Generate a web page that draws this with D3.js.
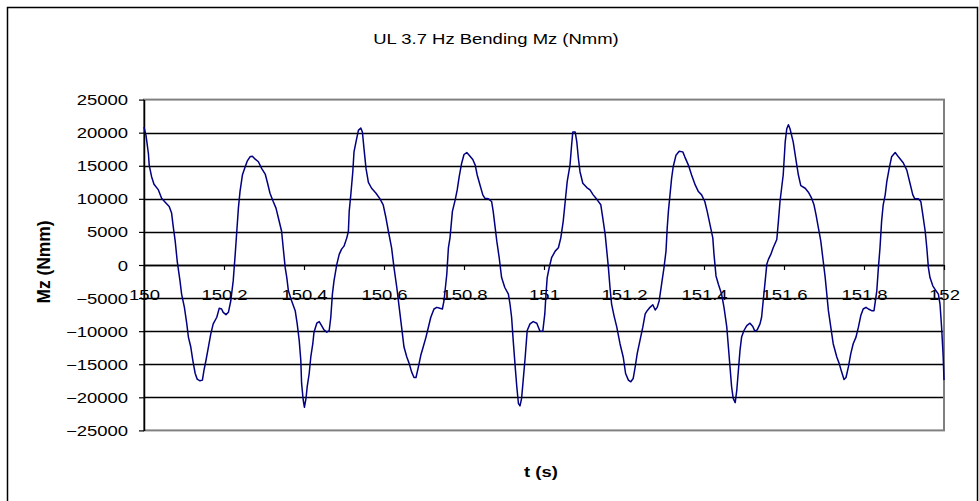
<!DOCTYPE html>
<html>
<head>
<meta charset="utf-8">
<script src="https://cdn.jsdelivr.net/npm/d3@7"></script>
<style>
  html, body { margin: 0; padding: 0; background: #fff; }
  svg { display: block; }
  text { font-family: Arial, "Liberation Sans", sans-serif; }
</style>
</head>
<body>
<svg id="chart" width="979" height="501"></svg>
<script>
const chartTitle = "UL 3.7 Hz Bending Mz (Nmm)";
const xTitle = "t (s)";
const yTitle = "Mz (Nmm)";
const xTicks = [150, 150.2, 150.4, 150.6, 150.8, 151, 151.2, 151.4, 151.6, 151.8, 152];
const yTicks = [-25000, -20000, -15000, -10000, -5000, 0, 5000, 10000, 15000, 20000, 25000];

const tValues = [
  150.000,150.005,150.011,150.013,150.019,150.025,150.036,150.044,150.053,150.063,150.069,150.073,150.078,150.083,150.090,150.094,
  150.101,150.107,150.111,150.117,150.122,150.128,150.133,150.140,150.146,150.150,150.155,150.161,150.167,150.173,150.182,150.188,
  150.194,150.198,150.205,150.211,150.217,150.223,150.228,150.232,150.236,150.240,150.246,150.253,150.258,150.265,150.271,150.278,
  150.286,150.294,150.303,150.309,150.315,150.323,150.330,150.336,150.344,150.348,150.353,150.357,150.361,150.369,150.378,150.383,
  150.388,150.392,150.394,150.398,150.401,150.405,150.408,150.413,150.417,150.422,150.425,150.432,150.438,150.444,150.450,150.457,
  150.463,150.467,150.471,150.475,150.482,150.488,150.494,
  150.500,150.507,150.511,150.513,150.517,150.522,150.525,150.530,150.536,150.542,150.546,150.550,150.555,150.561,150.569,150.580,
  150.590,150.598,150.605,150.611,150.619,150.625,150.632,150.638,150.644,150.650,150.657,150.663,150.669,150.675,150.680,150.686,
  150.692,150.698,150.705,150.712,150.717,150.725,150.732,150.740,150.746,150.750,150.757,150.761,150.765,150.768,150.771,150.778,
  150.783,150.788,150.794,150.800,150.807,150.813,150.822,150.828,150.833,150.840,150.847,150.852,150.861,150.869,150.873,150.878,
  150.882,150.888,150.894,150.902,150.911,150.915,150.919,150.923,150.928,150.932,150.936,150.940,150.944,150.948,150.953,150.958,
  150.965,150.973,150.982,150.990,
  150.997,151.002,151.005,151.008,151.013,151.019,151.028,151.036,151.042,151.048,151.053,151.058,151.065,151.069,151.072,151.078,
  151.082,151.086,151.090,151.097,151.107,151.115,151.123,151.133,151.142,151.147,151.153,151.157,151.161,151.165,151.169,151.175,
  151.182,151.190,151.198,151.204,151.211,151.217,151.223,151.228,151.233,151.240,151.247,151.253,151.258,151.265,151.272,151.278,
  151.283,151.288,151.294,151.300,151.305,151.308,151.311,151.315,151.319,151.323,151.330,151.338,151.347,151.352,151.361,151.369,
  151.378,151.386,151.394,151.402,151.408,151.415,151.422,151.425,151.430,151.436,151.444,151.450,151.457,151.461,151.465,151.469,
  151.473,151.478,151.482,151.486,151.490,151.494,
  151.500,151.507,151.515,151.522,151.527,151.533,151.540,151.544,151.548,151.553,151.557,151.561,151.567,151.573,151.582,151.586,
  151.590,151.594,151.598,151.603,151.607,151.611,151.615,151.623,151.630,151.636,151.642,151.653,151.661,151.669,151.675,151.680,
  151.686,151.692,151.698,151.703,151.707,151.711,151.717,151.723,151.732,151.738,151.744,151.750,151.755,151.761,151.767,151.773,
  151.780,151.786,151.792,151.798,151.805,151.811,151.819,151.825,151.832,151.836,151.840,151.844,151.848,151.853,151.857,151.863,
  151.869,151.878,151.886,151.898,151.907,151.915,151.922,151.927,151.936,151.942,151.947,151.953,151.957,151.961,151.965,151.972,
  151.980,151.986,151.990,151.994,151.998,152.000
];

const mzValues = [
  20850,19600,16850,15100,13350,12200,11350,10100,9500,8850,7850,5850,3600,600,-2400,-4400,
  -6400,-8900,-10900,-12400,-14400,-16400,-17250,-17500,-17400,-15900,-14400,-12400,-10400,-8900,-7900,-6550,
  -6650,-7150,-7500,-7150,-5400,-2400,1600,5100,8600,11100,13600,14850,15700,16350,16450,16000,
  15600,14600,13750,12350,10850,9600,8600,7100,5100,2600,-400,-1900,-3900,-5400,-6900,-8900,
  -11400,-14400,-17900,-20400,-21500,-20150,-18400,-16400,-13900,-11900,-10150,-8800,-8550,-9150,-9800,-10150,
  -9900,-7900,-4400,-2400,100,1600,2400,
  2850,4100,5100,8100,10600,14100,17100,18600,20350,20700,20100,17600,14600,12500,11600,10850,
  10000,9100,7100,5100,2600,-400,-3400,-6400,-9400,-12400,-13900,-14900,-16150,-17000,-17000,-15400,
  -13650,-12400,-10900,-9150,-7900,-6650,-6400,-6550,-6650,-5400,-1400,2600,4100,6100,8100,9850,
  11350,13350,15350,16700,17000,16600,15950,15100,13600,12100,10600,10100,10000,9600,8100,5600,
  3600,1100,-1900,-3400,-4400,-5900,-7900,-11400,-15400,-18400,-20900,-21300,-20150,-17400,-13900,-9900,
  -8900,-8550,-8800,-10000,
  -10000,-7400,-4400,-1900,-400,1100,2100,2600,4100,6600,9600,12600,15100,18100,20100,20100,
  18600,16100,14100,12350,11700,11350,10600,9850,9100,7100,4600,2100,-400,-3400,-5900,-7650,
  -9400,-11900,-13900,-16400,-17400,-17650,-17150,-15400,-13400,-11400,-9400,-7400,-6900,-6400,-6000,-6800,
  -6400,-5400,-2900,-400,2100,5600,8100,10600,13100,14850,16600,17200,17100,16350,15100,13600,
  12100,11100,10600,9600,8100,6100,4100,1600,-1650,-2900,-4400,-6400,-9400,-12400,-15400,-18400,
  -20150,-20800,-18900,-15900,-12900,-10900,
  -9900,-9150,-8800,-9300,-10000,-9800,-8900,-7900,-5400,-2400,100,850,1600,2600,3850,6600,
  9600,11600,13600,18600,20600,21200,20600,18600,15850,13600,12000,11600,11000,10100,9100,7600,
  5600,3600,600,-1900,-4400,-6900,-9400,-11900,-13900,-14900,-16150,-17300,-17000,-15400,-13400,-11900,
  -10900,-9400,-7650,-6650,-6400,-6650,-6900,-6900,-3900,-400,2600,6600,9100,10600,12600,14600,
  16350,17000,16350,15450,14350,12350,10600,10000,10000,9600,7600,5100,2600,-400,-1900,-3150,
  -3900,-4400,-5900,-9400,-13900,-17400
];

const data = tValues.map((t, i) => ({ t, v: mzValues[i] }));

const svg = d3.select("#chart");
const SX = 1.32; // horizontal stretch of the reference's text
const plot = { left: 144, right: 944, top: 99.6, bottom: 430.4 };

const x = d3.scaleLinear().domain([150, 152]).range([plot.left, plot.right]);
const y = d3.scaleLinear().domain([-25000, 25000]).range([plot.bottom, plot.top]);

// outer chart frame
svg.append("rect")
  .attr("x", 7.5).attr("y", 7.5).attr("width", 970).attr("height", 600)
  .attr("fill", "none").attr("stroke", "#000").attr("stroke-width", 1.5);

// horizontal gridlines
svg.append("g").selectAll("line")
  .data(yTicks.filter(d => d !== 25000 && d !== -25000))
  .join("line")
  .attr("x1", plot.left).attr("x2", plot.right)
  .attr("y1", d => Math.round(y(d)) + 0.5).attr("y2", d => Math.round(y(d)) + 0.5)
  .attr("stroke", "#000").attr("stroke-width", 1.3);

// plot area border (gray)
svg.append("rect")
  .attr("x", plot.left).attr("y", plot.top)
  .attr("width", plot.right - plot.left).attr("height", plot.bottom - plot.top)
  .attr("fill", "none").attr("stroke", "#808080").attr("stroke-width", 2);

// y axis
const yAxis = svg.append("g")
  .attr("transform", `translate(${plot.left},0)`)
  .call(d3.axisLeft(y).tickValues(yTicks).tickSize(5).tickSizeOuter(0).tickFormat(d3.format("d")));
yAxis.select(".domain").attr("stroke", "#000").attr("stroke-width", 1.5);
yAxis.selectAll(".tick line").attr("stroke", "#000").attr("stroke-width", 1.2);
yAxis.selectAll(".tick text")
  .attr("x", null).attr("dy", null)
  .attr("font-size", 14).attr("fill", "#000")
  .attr("text-anchor", "end")
  .attr("transform", `translate(-16,5) scale(${SX},1)`);

// x axis at y = 0
const xAxis = svg.append("g")
  .attr("transform", `translate(0,${y(0)})`)
  .call(d3.axisBottom(x).tickValues(xTicks).tickSize(5).tickSizeOuter(0).tickFormat(d => String(+d.toFixed(1))));
xAxis.select(".domain").attr("stroke", "#000").attr("stroke-width", 1.3);
xAxis.selectAll(".tick line").attr("stroke", "#000").attr("stroke-width", 1.2);
xAxis.selectAll(".tick text")
  .attr("y", null).attr("dy", null)
  .attr("font-size", 14).attr("fill", "#000")
  .attr("text-anchor", "middle")
  .attr("transform", `translate(0,35) scale(${SX},1)`);

// series line
svg.append("path")
  .datum(data)
  .attr("fill", "none")
  .attr("stroke", "#000080")
  .attr("stroke-width", 1.5)
  .attr("stroke-linejoin", "round")
  .attr("d", d3.line().x(d => x(d.t)).y(d => y(d.v)));

// titles
svg.append("text")
  .attr("transform", `translate(496,44) scale(${SX},1)`)
  .attr("text-anchor", "middle").attr("font-size", 14).attr("fill", "#000")
  .text(chartTitle);

svg.append("text")
  .attr("transform", `translate(541,477) scale(${SX},1)`)
  .attr("text-anchor", "middle").attr("font-size", 14).attr("font-weight", "bold").attr("fill", "#000")
  .text(xTitle);

svg.append("text")
  .attr("transform", `translate(50,262) scale(${SX},1) rotate(-90)`)
  .attr("text-anchor", "middle").attr("font-size", 14).attr("font-weight", "bold").attr("fill", "#000")
  .attr("textLength", 83).attr("lengthAdjust", "spacingAndGlyphs")
  .text(yTitle);
</script>
</body>
</html>
